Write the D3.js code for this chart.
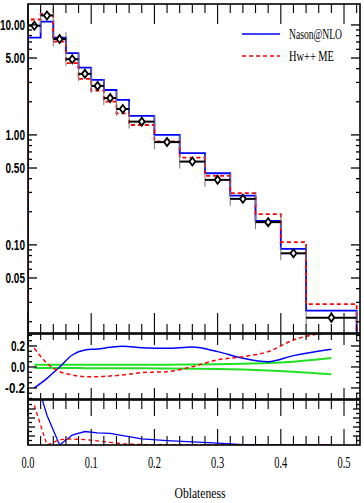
<!DOCTYPE html>
<html>
<head>
<meta charset="utf-8">
<script src="https://cdn.jsdelivr.net/npm/d3@7"></script>
<style>
  body { margin: 0; background: #fff; }
  svg { display: block; }
</style>
</head>
<body>
<div id="chart"></div>
<script>
// bin edges of the oblateness histogram
const binEdges = [0, 0.02, 0.04, 0.06, 0.08, 0.10, 0.12, 0.14, 0.16,
                  0.20, 0.24, 0.28, 0.32, 0.36, 0.40, 0.44, 0.52];
const dataVals  = [9.84, 12.2, 7.43, 4.88, 3.59, 2.79, 2.16, 1.72, 1.32, 0.86, 0.572, 0.390, 0.262, 0.161, 0.0838, 0.0218];
const nasonVals = [7.66, 10.7, 7.66, 5.53, 4.09, 3.16, 2.56, 2.08, 1.49, 1.00, 0.682, 0.448, 0.281, 0.165, 0.092, 0.0252];
const hwmeVals  = [11.2, 12.6, 7.05, 4.49, 3.23, 2.53, 2.01, 1.57, 1.23, 0.875, 0.622, 0.424, 0.295, 0.190, 0.106, 0.0289];
// relative data uncertainty (green band in ratio panel)
const errUp = [0.022, 0.022, 0.021, 0.02, 0.02, 0.02, 0.02, 0.02, 0.021, 0.022, 0.024, 0.026, 0.03, 0.037, 0.05, 0.085];
const errDn = [-0.01, -0.01, -0.01, -0.01, -0.011, -0.011, -0.011, -0.012, -0.013, -0.014, -0.016, -0.019, -0.025, -0.033, -0.045, -0.07];
// (MC - data)/data
const ratioNason = [-0.20, -0.108, 0.0, 0.114, 0.162, 0.171, 0.187, 0.197, 0.184, 0.178, 0.19, 0.146, 0.083, 0.05, 0.108, 0.168];
const ratioHwme  = [0.178, 0.035, -0.045, -0.076, -0.092, -0.092, -0.086, -0.076, -0.054, -0.045, 0.003, 0.067, 0.098, 0.146, 0.257, 0.33];
// per-bin deviation panel
const chiNason = [8, 3.3, 0, 1.1, 1.5, 1.35, 1.3, 1.03, 0.67, 0.48, 0.35, 0.2, 0.05, 0.03, 0.02, 0.02];
const chiHwme  = [4.4, 0, 0.6, 0.67, 0.6, 0.45, 0.3, 0.13, 0.05, 0.02, 0.01, 0.01, 0.01, 0.01, 0.01, 0.01];

const xTickVals = [0, 0.1, 0.2, 0.3, 0.4, 0.5];
const xTickLabels = ["0.0", "0.1", "0.2", "0.3", "0.4", "0.5"];
const yMainTicks = [10, 5, 1, 0.5, 0.1, 0.05];
const yMainLabels = ["10.00", "5.00", "1.00", "0.50", "0.10", "0.05"];
const yRatioTicks = [0.2, 0, -0.2];
const yRatioLabels = ["0.2", "0.0", "-0.2"];
const series = ["Nason@NLO", "Hw++ ME"];

const width = 364, height = 503;
const left = 28, right = 360;
const main = {top: 4, bottom: 333};
const rat = {top: 334, bottom: 399};
const chi = {top: 400, bottom: 445};

const svg = d3.select("#chart").append("svg")
  .attr("width", width)
  .attr("height", height);

const x = d3.scaleLinear().domain([0, 0.5253]).range([left, right]);
const yMain = d3.scaleLog().domain([0.0158, 15.5]).range([main.bottom, main.top]);
const yRat = d3.scaleLinear().domain([-0.305, 0.314]).range([rat.bottom, rat.top]);
const yChi = d3.scaleLinear().domain([0, 5]).range([chi.bottom, chi.top]);

const centers = binEdges.slice(0, -1).map((e, i) => (e + binEdges[i + 1]) / 2);

function labelWidth(s, digit, dot) {
  let w = 0;
  for (const c of s) w += c === "." ? dot : c === "-" ? 6 : digit;
  return w;
}

// text squeezed horizontally to a given width (condensed look)
function fitText(parent, str, px, py, w, anchor, font, size, weight) {
  const g = parent.append("g").attr("transform", `translate(${px},${py})`);
  const t = g.append("text")
    .attr("text-anchor", anchor)
    .attr("font-family", font)
    .attr("font-size", size)
    .attr("font-weight", weight || "normal")
    .text(str);
  const len = t.node().getComputedTextLength();
  if (len > 0) t.attr("transform", `scale(${w / len},1)`);
  return t;
}

// clip paths
[["cMain", main], ["cRat", rat], ["cChi", chi]].forEach(([id, p]) => {
  svg.append("clipPath").attr("id", id)
    .append("rect").attr("x", left).attr("y", p.top)
    .attr("width", right - left).attr("height", p.bottom - p.top);
});

// ---------- main panel ----------
const gMain = svg.append("g").attr("clip-path", "url(#cMain)");

function stepPoints(vals) {
  const pts = [[binEdges[0], 0.001]];
  vals.forEach((v, i) => pts.push([binEdges[i], v]));
  pts.push([binEdges[binEdges.length - 1], vals[vals.length - 1]]);
  pts.push([binEdges[binEdges.length - 1], 0.001]);
  return pts;
}
const stepLine = d3.line()
  .x(d => x(d[0]))
  .y(d => yMain(d[1]))
  .curve(d3.curveStepAfter);

gMain.append("path")
  .attr("d", stepLine(stepPoints(nasonVals)))
  .attr("fill", "none").attr("stroke", "#0000ff").attr("stroke-width", 1.8);
gMain.append("path")
  .attr("d", stepLine(stepPoints(hwmeVals)))
  .attr("fill", "none").attr("stroke", "#ff0000").attr("stroke-width", 1.8)
  .attr("stroke-dasharray", "4,3");

// data: bin bars, caps, error bars, markers
const gData = gMain.append("g");
dataVals.forEach((v, i) => {
  const x0 = x(binEdges[i]), x1 = x(binEdges[i + 1]), yv = yMain(v);
  [x0, x1].forEach(xx => {
    gData.append("line")
      .attr("x1", xx).attr("x2", xx).attr("y1", yv - 7).attr("y2", yv + 7)
      .attr("stroke", "#777").attr("stroke-width", 1);
  });
  gData.append("line")
    .attr("x1", x0).attr("x2", x1).attr("y1", yv).attr("y2", yv)
    .attr("stroke", "#000").attr("stroke-width", 2);
  const xc = x(centers[i]);
  gData.append("line")
    .attr("x1", xc).attr("x2", xc)
    .attr("y1", yMain(v * (1 + errUp[i])) - 1.5)
    .attr("y2", yMain(v * (1 + errDn[i])) + 1.5)
    .attr("stroke", "#000").attr("stroke-width", 1.5);
  gData.append("path")
    .attr("d", `M${xc},${yv - 4}L${xc + 3},${yv}L${xc},${yv + 4}L${xc - 3},${yv}Z`)
    .attr("fill", "#fff").attr("stroke", "#000").attr("stroke-width", 1.8);
});

// ---------- ratio panel ----------
const gRat = svg.append("g").attr("clip-path", "url(#cRat)");
const ratLine = d3.line()
  .x((d, i) => x(centers[i]))
  .y(d => yRat(d))
  .curve(d3.curveMonotoneX);
gRat.append("path").attr("d", ratLine(errUp))
  .attr("fill", "none").attr("stroke", "#22e022").attr("stroke-width", 2);
gRat.append("path").attr("d", ratLine(errDn))
  .attr("fill", "none").attr("stroke", "#22e022").attr("stroke-width", 2);
gRat.append("path").attr("d", ratLine(ratioNason))
  .attr("fill", "none").attr("stroke", "#0000ff").attr("stroke-width", 1.5);
gRat.append("path").attr("d", ratLine(ratioHwme))
  .attr("fill", "none").attr("stroke", "#ff0000").attr("stroke-width", 1.5)
  .attr("stroke-dasharray", "4,3");

// ---------- chi panel ----------
const gChi = svg.append("g").attr("clip-path", "url(#cChi)");
const chiLine = d3.line()
  .x((d, i) => x(centers[i]))
  .y(d => yChi(d));
gChi.append("path").attr("d", chiLine(chiNason))
  .attr("fill", "none").attr("stroke", "#0000ff").attr("stroke-width", 1.3);
gChi.append("path").attr("d", chiLine(chiHwme))
  .attr("fill", "none").attr("stroke", "#ff0000").attr("stroke-width", 1.3)
  .attr("stroke-dasharray", "4,3");

// ---------- frames and ticks ----------
const gAx = svg.append("g").attr("stroke", "#000");

function frame(p, majLen, minLen) {
  gAx.append("rect")
    .attr("x", left).attr("y", p.top)
    .attr("width", right - left).attr("height", p.bottom - p.top)
    .attr("fill", "none").attr("stroke-width", 1.6);
  const minor = d3.range(0.02, 0.53, 0.02).filter(t => Math.abs(t * 10 - Math.round(t * 10)) > 1e-6);
  [[xTickVals, majLen], [minor, minLen]].forEach(([ts, len]) => {
    ts.forEach(t => {
      const xx = x(t);
      gAx.append("line").attr("x1", xx).attr("x2", xx)
        .attr("y1", p.top).attr("y2", p.top + len).attr("stroke-width", 1.1);
      gAx.append("line").attr("x1", xx).attr("x2", xx)
        .attr("y1", p.bottom).attr("y2", p.bottom - len).attr("stroke-width", 1.1);
    });
  });
}
function yTicks(scale, vals, len) {
  vals.forEach(v => {
    const yy = scale(v);
    gAx.append("line").attr("x1", left).attr("x2", left + len)
      .attr("y1", yy).attr("y2", yy).attr("stroke-width", 1.3);
    gAx.append("line").attr("x1", right).attr("x2", right - len)
      .attr("y1", yy).attr("y2", yy).attr("stroke-width", 1.3);
  });
}

frame(main, 20, 9);
frame(rat, 11, 6);
frame(chi, 16, 9);

// main y ticks
const logMinor = [];
[0.01, 0.1, 1].forEach(dec => d3.range(2, 10).forEach(k => {
  const v = dec * k;
  if (v > 0.0158 && v < 15.5 && !yMainTicks.includes(+v.toFixed(4))) logMinor.push(v);
}));
yTicks(yMain, yMainTicks, 9);
yTicks(yMain, logMinor, 4);

// ratio y ticks
yTicks(yRat, yRatioTicks, 9);
yTicks(yRat, d3.range(-0.3, 0.31, 0.05).filter(v => !yRatioTicks.some(t => Math.abs(t - v) < 1e-6)), 4);

// chi y ticks
yTicks(yChi, [1, 2, 3, 4], 7);
yTicks(yChi, [0.5, 1.5, 2.5, 3.5, 4.5], 4);

// ---------- labels ----------
const sansNarrow = "'Liberation Sans Narrow', 'Liberation Sans', Arial, sans-serif";
const serif = "'Liberation Serif', 'DejaVu Serif', serif";
const gLab = svg.append("g");

yMainTicks.forEach((d, i) => {
  fitText(gLab, yMainLabels[i], 25, yMain(d) + 5, labelWidth(yMainLabels[i], 5.5, 3),
          "end", sansNarrow, 14, "bold");
});
yRatioTicks.forEach((d, i) => {
  fitText(gLab, yRatioLabels[i], 25, yRat(d) + 5, labelWidth(yRatioLabels[i], 5.5, 3),
          "end", sansNarrow, 14, "bold");
});
xTickVals.forEach((d, i) => {
  fitText(gLab, xTickLabels[i], x(d), 467.5, 13, "middle", serif, 16);
});
fitText(gLab, "Oblateness", 200, 498, 51, "middle", serif, 15);

// legend
const legend = svg.append("g");
const legendY = [34, 56];
const legendW = [53, 45];
series.forEach((name, i) => {
  legend.append("line")
    .attr("x1", 242).attr("x2", 280)
    .attr("y1", legendY[i]).attr("y2", legendY[i])
    .attr("stroke", i === 0 ? "#0000ff" : "#ff0000")
    .attr("stroke-width", 1.6)
    .attr("stroke-dasharray", i === 0 ? null : "4,3");
  fitText(legend, name, 289, legendY[i] + 5, legendW[i], "start", serif, 15);
});
</script>
</body>
</html>
